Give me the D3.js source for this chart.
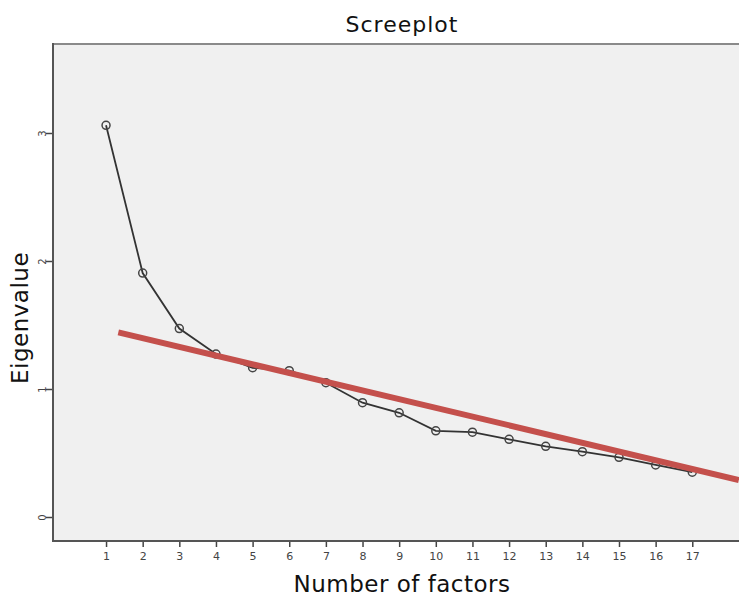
<!DOCTYPE html>
<html><head><meta charset="utf-8">
<script src="https://cdn.jsdelivr.net/npm/d3@7"></script>
<style>body{margin:0;background:#fff;}svg{display:block;}</style>
</head><body>
<svg id="c" width="739" height="596"></svg>
<script>
const factors = [1,2,3,4,5,6,7,8,9,10,11,12,13,14,15,16,17];
const eigenvalues = [3.06,1.906,1.472,1.273,1.166,1.143,1.049,0.893,0.814,0.673,0.663,0.607,0.552,0.510,0.466,0.407,0.350];
const yTicks = [0,1,2,3];
const refLine = [[1.335,1.443],[18.27,0.289]];

const svg = d3.select("#c");
const pL = 53, pT = 44, pR = 749, pB = 541;
const x = d3.scaleLinear().domain([0,1]).range([69.4,106.04]);
const y = d3.scaleLinear().domain([0,1]).range([517,389]);

svg.append("rect").attr("x",pL).attr("y",pT).attr("width",pR-pL).attr("height",pB-pT).attr("fill","#f0f0f0");
svg.append("line").attr("x1",pL).attr("x2",pR).attr("y1",pT).attr("y2",pT).attr("stroke","#8a8a8a").attr("stroke-width",2);

const font = "DejaVu Sans, Verdana, sans-serif";

// x axis
const gx = svg.append("g").attr("transform",`translate(0,${pB})`)
  .call(d3.axisBottom(x).tickValues(factors).tickSize(6).tickSizeOuter(0).tickPadding(5).tickFormat(d3.format("d")));
gx.select(".domain").remove();
gx.selectAll(".tick line").attr("stroke","#444").attr("stroke-width",1.5);
gx.selectAll(".tick text").attr("fill","#444").style("font-family",font).style("font-size","11px");
svg.append("line").attr("x1",pL).attr("x2",pR).attr("y1",pB).attr("y2",pB).attr("stroke","#555").attr("stroke-width",2);

// y axis
const gy = svg.append("g").attr("transform",`translate(${pL},0)`)
  .call(d3.axisLeft(y).tickValues(yTicks).tickSize(7).tickSizeOuter(0).tickPadding(3).tickFormat(d3.format("d")));
gy.select(".domain").remove();
gy.selectAll(".tick line").attr("stroke","#444").attr("stroke-width",1.5);
gy.selectAll(".tick text").attr("fill","#444").style("font-family",font).style("font-size","10px")
  .attr("x",0).attr("dy",0).attr("text-anchor","middle").attr("transform","translate(-11,0) rotate(-90) translate(0,3.5)");
svg.append("line").attr("x1",pL).attr("x2",pL).attr("y1",pT-1).attr("y2",pB+1).attr("stroke","#555").attr("stroke-width",2);

// line
const data = factors.map((f,i)=>[f,eigenvalues[i]]);
svg.append("path").datum(data).attr("fill","none").attr("stroke","#333").attr("stroke-width",1.8)
  .attr("d",d3.line().x(d=>x(d[0])).y(d=>y(d[1])));
svg.selectAll("circle.pt").data(data).enter().append("circle").attr("class","pt")
  .attr("cx",d=>x(d[0])).attr("cy",d=>y(d[1])).attr("r",4)
  .attr("fill","none").attr("stroke","#444").attr("stroke-width",1.5);

// reference line
svg.append("path").datum(refLine).attr("fill","none").attr("stroke","#c4504c").attr("stroke-width",6)
  .attr("d",d3.line().x(d=>x(d[0])).y(d=>y(d[1])));

// titles
svg.append("text").attr("x",402).attr("y",31.5).attr("text-anchor","middle").style("font-family",font).style("font-size","22px").style("letter-spacing","1px").attr("fill","#111").text("Screeplot");
svg.append("text").attr("x",402).attr("y",591.5).attr("text-anchor","middle").style("font-family",font).style("font-size","23px").style("letter-spacing","0.5px").attr("fill","#111").text("Number of factors");
svg.append("text").attr("transform","translate(27.5,318) rotate(-90)").attr("text-anchor","middle").style("font-family",font).style("font-size","23px").style("letter-spacing","0.5px").attr("fill","#111").text("Eigenvalue");
</script>
</body></html>
